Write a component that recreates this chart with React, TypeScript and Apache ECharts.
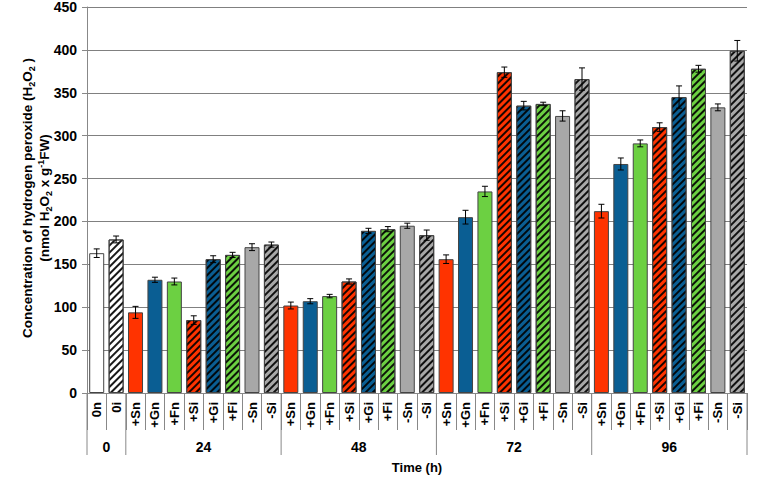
import React, { useEffect, useRef } from "react";
import * as echarts from "echarts";

const categories = [
  "0n", "0i",
  "+Sn", "+Gn", "+Fn", "+Si", "+Gi", "+Fi", "-Sn", "-Si",
  "+Sn", "+Gn", "+Fn", "+Si", "+Gi", "+Fi", "-Sn", "-Si",
  "+Sn", "+Gn", "+Fn", "+Si", "+Gi", "+Fi", "-Sn", "-Si",
  "+Sn", "+Gn", "+Fn", "+Si", "+Gi", "+Fi", "-Sn", "-Si",
];
const values = [
  163, 179,
  94, 132, 130, 85, 156, 161, 170, 173,
  102, 107, 113, 130, 189, 191, 195, 184,
  156, 205, 235, 374, 335, 337, 323, 366,
  212, 267, 291, 310, 345, 378, 333, 399,
];
const errors = [
  5, 4,
  7, 3, 4, 5, 4, 3, 4, 3,
  4, 3, 2, 3, 3, 3, 3, 6,
  5, 8, 6, 6, 5, 2, 6, 13,
  8, 7, 4, 5, 13, 4, 4, 12,
];
const groupLabels = ["0", "24", "48", "72", "96"];
const groupStarts = [0, 2, 10, 18, 26];
const groupEnds = [2, 10, 18, 26, 34];
const yTicks = [0, 50, 100, 150, 200, 250, 300, 350, 400, 450];

const RED = "#FF3300";
const BLUE = "#0A5E93";
const GREEN = "#6CD042";
const GRAY = "#A8A8A8";

function colorFor(label: string): string {
  if (label.startsWith("0")) return "#FFFFFF";
  if (label.includes("S") && label.startsWith("+")) return RED;
  if (label.includes("G")) return BLUE;
  if (label.includes("F")) return GREEN;
  return GRAY;
}

const stripe = {
  symbol: "rect",
  symbolSize: 1,
  dashArrayX: [1, 0],
  dashArrayY: [2, 2.5],
  rotation: -Math.PI / 4,
  color: "rgba(0,0,0,0.9)",
};

export default function App() {
  const ref = useRef<HTMLDivElement>(null);
  useEffect(() => {
    const chart = echarts.init(ref.current!, null, { renderer: "svg" });
    const barData = values.map((v, i) => {
      const lab = categories[i];
      const hatched = lab.endsWith("i");
      return {
        value: v,
        itemStyle: {
          color: colorFor(lab),
          borderColor: "#444",
          borderWidth: 1,
          decal: hatched ? stripe : null,
        },
      };
    });
    const font = "Liberation Sans, Arial, sans-serif";
    chart.setOption({
      animation: false,
      aria: { enabled: false, decal: { show: false } },
      grid: { left: 87, right: 13, top: 7, bottom: 89 },
      xAxis: [
        {
          type: "category",
          data: categories,
          boundaryGap: true,
          axisLine: { show: true, lineStyle: { color: "#888", width: 1 } },
          axisTick: {
            show: true,
            interval: 0,
            alignWithLabel: false,
            length: 37,
            lineStyle: { color: "#888", width: 1 },
          },
          axisLabel: {
            interval: 0,
            rotate: 90,
            margin: 9,
            color: "#000",
            fontWeight: "bold",
            fontSize: 13,
            fontFamily: font,
          },
          splitLine: { show: false },
        },
        {
          type: "value",
          min: 0,
          max: 34,
          show: false,
        },
      ],
      yAxis: {
        type: "value",
        min: 0,
        max: 450,
        interval: 50,
        axisLine: { show: true, lineStyle: { color: "#888", width: 1 } },
        axisTick: { show: true, length: 5, inside: false, lineStyle: { color: "#888" } },
        axisLabel: {
          color: "#000",
          fontWeight: "bold",
          fontSize: 14,
          fontFamily: font,
          margin: 10,
          formatter: (v: number) => (yTicks.includes(v) ? String(v) : ""),
        },
        splitLine: { show: true, lineStyle: { color: "#808080", width: 1 } },
      },
      series: [
        {
          type: "bar",
          data: barData,
          barWidth: 15,
          xAxisIndex: 0,
          yAxisIndex: 0,
        },
        {
          type: "custom",
          xAxisIndex: 0,
          yAxisIndex: 0,
          z: 10,
          data: values.map((v, i) => [i, v, errors[i]]),
          renderItem: (params: any, api: any) => {
            const x = api.value(0);
            const v = api.value(1);
            const e = api.value(2);
            const top = api.coord([x, v + e]);
            const bot = api.coord([x, v - e]);
            const cx = top[0];
            const w = 3;
            const st = { stroke: "#000", lineWidth: 1 };
            return {
              type: "group",
              children: [
                { type: "line", shape: { x1: cx, y1: top[1], x2: cx, y2: bot[1] }, style: st },
                { type: "line", shape: { x1: cx - w, y1: top[1], x2: cx + w, y2: top[1] }, style: st },
                { type: "line", shape: { x1: cx - w, y1: bot[1], x2: cx + w, y2: bot[1] }, style: st },
              ],
            };
          },
        },
        {
          type: "custom",
          xAxisIndex: 1,
          yAxisIndex: 0,
          clip: false,
          silent: true,
          data: groupLabels.map((g, i) => [groupStarts[i], groupEnds[i], i]),
          renderItem: (params: any, api: any) => {
            const s = api.value(0);
            const e = api.value(1);
            const idx = api.value(2);
            const p0 = api.coord([s, 0]);
            const p1 = api.coord([e, 0]);
            const st = { stroke: "#888", lineWidth: 1 };
            const children: any[] = [
              { type: "line", shape: { x1: p0[0], y1: p0[1], x2: p0[0], y2: p0[1] + 62 }, style: st },
              {
                type: "text",
                x: (p0[0] + p1[0]) / 2,
                y: p0[1] + 54,
                style: {
                  text: groupLabels[idx],
                  fill: "#000",
                  font: `bold 14px ${font}`,
                  align: "center",
                  verticalAlign: "middle",
                },
              },
            ];
            if (idx === groupLabels.length - 1) {
              children.push({
                type: "line",
                shape: { x1: p1[0], y1: p1[1], x2: p1[0], y2: p1[1] + 62 },
                style: st,
              });
            }
            return { type: "group", children };
          },
        },
      ],
      graphic: [
        {
          type: "text",
          x: 417,
          y: 467,
          style: {
            text: "Time (h)",
            fill: "#000",
            font: `bold 13px ${font}`,
            align: "center",
            verticalAlign: "middle",
          },
        },
        {
          type: "text",
          x: 36,
          y: 198,
          rotation: Math.PI / 2,
          style: {
            text:
              "{a|Concentration of hydrogen peroxide (H}{s|2}{a|O}{s|2}{a| )}\n{a|(nmol H}{s|2}{a|O}{s|2}{a| x g}{u|-1}{a|FW)}",
            align: "center",
            verticalAlign: "middle",
            rich: {
              a: { fontSize: 13.5, fontWeight: "bold", fontFamily: font, lineHeight: 17, fill: "#000", color: "#000" },
              s: { fontSize: 9, fontWeight: "bold", fontFamily: font, lineHeight: 9, verticalAlign: "bottom", fill: "#000", color: "#000" },
              u: { fontSize: 9, fontWeight: "bold", fontFamily: font, lineHeight: 9, verticalAlign: "top", fill: "#000", color: "#000" },
            },
          },
        },
      ],
    });
    return () => chart.dispose();
  }, []);
  return <div ref={ref} style={{ width: 760, height: 482, position: "absolute", left: 0, top: 0 }} />;
}
